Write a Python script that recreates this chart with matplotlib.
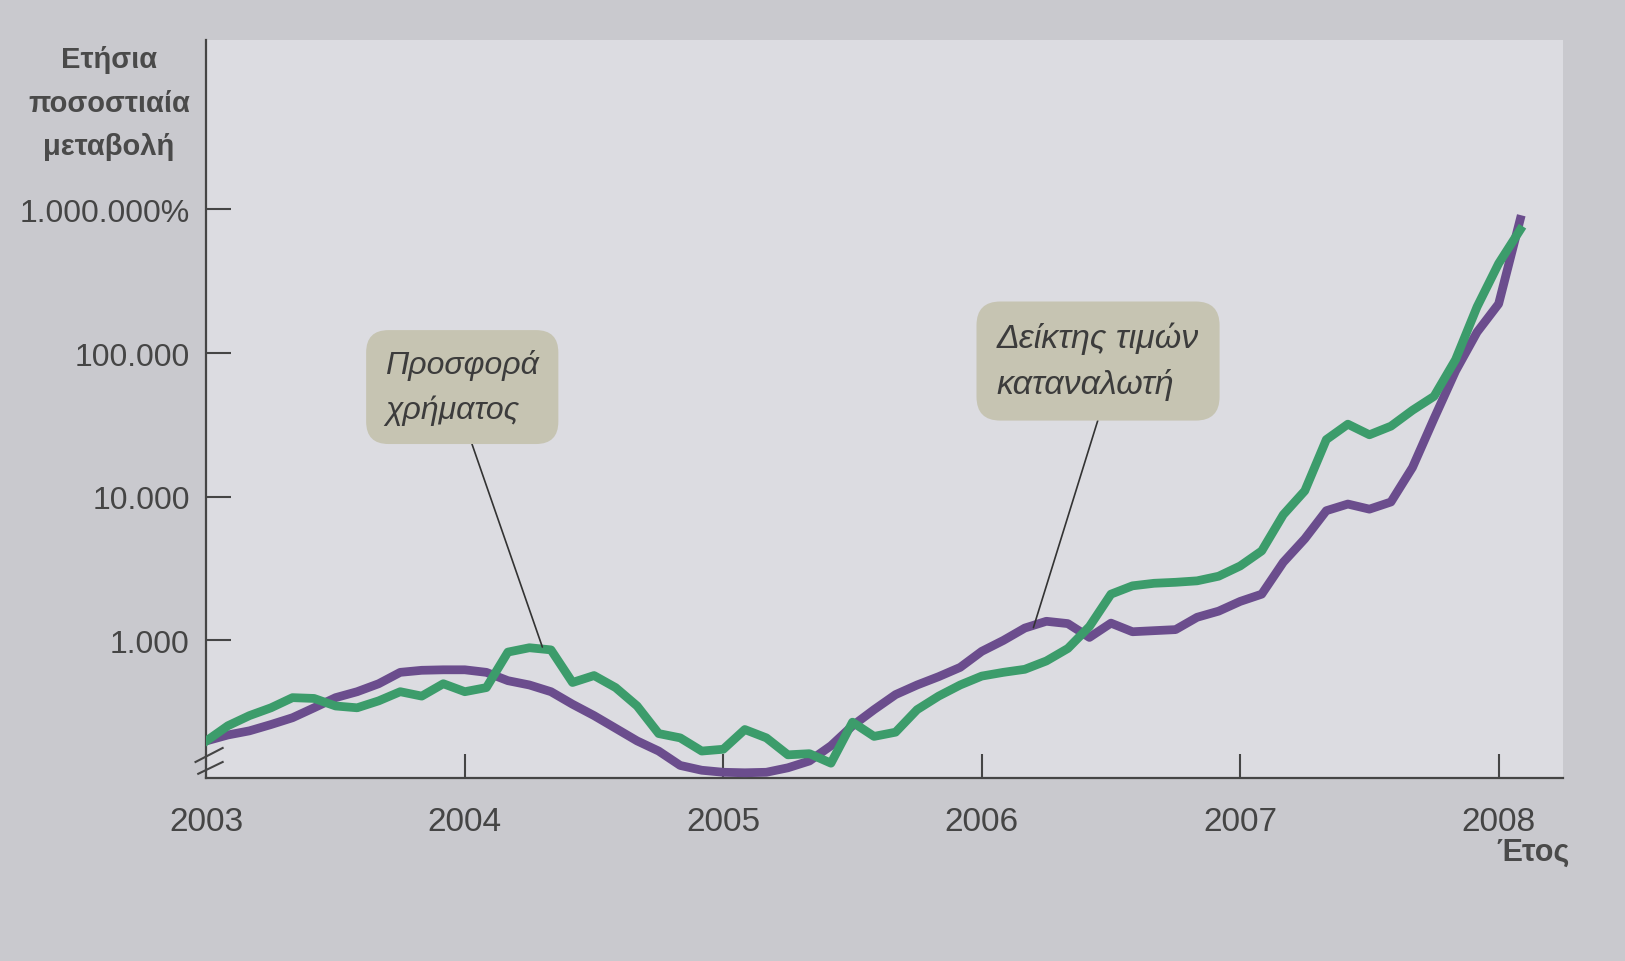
import numpy as np
import pandas as pd
import matplotlib
matplotlib.use("Agg")
import matplotlib.pyplot as plt
from matplotlib.ticker import FixedLocator, FixedFormatter, NullLocator

# Μηνιαία δεδομένα, Ιαν 2003 - Φεβ 2008 (ετήσια % μεταβολή, λογαριθμική κλίμακα)
months = pd.date_range("2003-01-01", periods=62, freq="MS")

cpi = [200, 220, 235, 260, 290, 340, 400, 440, 500, 600,
       620, 625, 625, 600, 525, 490, 440, 360, 300, 245,
       200, 170, 135, 125, 121, 120, 121, 130, 145, 185,
       255, 330, 420, 490, 560, 650, 840, 1000, 1220, 1360,
       1310, 1050, 1320, 1150, 1170, 1190, 1450, 1600, 1870, 2100,
       3500, 5100, 8000, 8900, 8200, 9200, 16000, 35000, 75000, 140000,
       220000, 850000]

money = [200, 255, 300, 340, 400, 395, 350, 340, 380, 440,
         410, 500, 440, 470, 830, 890, 860, 510, 570, 470,
         350, 225, 210, 170, 175, 240, 210, 160, 163, 140,
         270, 215, 230, 330, 410, 490, 565, 600, 630, 720,
         880, 1250, 2100, 2400, 2500, 2540, 2600, 2800, 3300, 4200,
         7500, 11000, 25000, 32000, 27000, 31000, 40000, 50000, 90000, 210000,
         420000, 720000]

year_ticks = [2003, 2004, 2005, 2006, 2007, 2008]
year_labels = ["2003", "2004", "2005", "2006", "2007", "2008"]
y_ticks = [1e3, 1e4, 1e5, 1e6]
y_labels = ["1.000", "10.000", "100.000", "1.000.000%"]

t = months.year + (months.month - 1) / 12

plt.rcParams["font.family"] = ["Liberation Sans", "DejaVu Sans"]

fig = plt.figure(figsize=(16.25, 9.62), dpi=100, facecolor="#c9c9ce")
ax = fig.add_axes([0.127, 0.19, 0.835, 0.767])
ax.set_facecolor("#dcdce1")

ax.plot(t, cpi, color="#6b4d8d", lw=6.3, zorder=3)
ax.plot(t, money, color="#3c9c6b", lw=6.3, zorder=4)

ax.set_yscale("log")
ax.set_ylim(110, 1.5e7)
ax.set_xlim(2003, 2008.25)

ax.yaxis.set_major_locator(FixedLocator(y_ticks))
ax.yaxis.set_major_formatter(FixedFormatter(y_labels))
ax.yaxis.set_minor_locator(NullLocator())
ax.set_xticks(year_ticks)
ax.set_xticklabels(year_labels)

for s in ["top", "right"]:
    ax.spines[s].set_visible(False)
for s in ["left", "bottom"]:
    ax.spines[s].set_color("#454545")
    ax.spines[s].set_linewidth(1.6)

ax.tick_params(axis="y", direction="in", length=18, width=1.5, pad=12,
               labelsize=23, color="#454545", labelcolor="#454545")
ax.tick_params(axis="x", direction="in", length=17, width=1.5, pad=20,
               labelsize=24, color="#454545", labelcolor="#454545")

# τίτλος άξονα y
fig.text(0.067, 0.952, "Ετήσια\nποσοστιαία\nμεταβολή", ha="center", va="top",
         fontsize=21, fontweight="bold", color="#4a4a4a", linespacing=1.7)
fig.text(0.966, 0.114, "Έτος", ha="right", va="center",
         fontsize=22, fontweight="bold", color="#4a4a4a")

# σημάδια διακοπής άξονα
ax.plot([-0.008, 0.012], [0.022, 0.041], color="#454545", lw=1.5,
        transform=ax.transAxes, clip_on=False)
ax.plot([-0.006, 0.012], [0.006, 0.022], color="#454545", lw=1.5,
        transform=ax.transAxes, clip_on=False)

box = dict(boxstyle="round,pad=0.6,rounding_size=0.7", fc="#c6c4b2", ec="none")
ax.annotate("Προσφορά\nχρήματος", xy=(2004.30, 900), xytext=(2003.99, 58000),
            ha="center", va="center", multialignment="left", fontsize=23,
            style="italic", color="#3c3c3c", bbox=box, zorder=5, linespacing=1.6,
            arrowprops=dict(arrowstyle="-", color="#333333", lw=1.2,
                            relpos=(0.52, 0), shrinkA=0, shrinkB=0))
ax.annotate("Δείκτης τιμών\nκαταναλωτή", xy=(2006.20, 1230), xytext=(2006.45, 88000),
            ha="center", va="center", multialignment="left", fontsize=24.5,
            style="italic", color="#3c3c3c", bbox=box, zorder=5, linespacing=1.55,
            arrowprops=dict(arrowstyle="-", color="#333333", lw=1.2,
                            relpos=(0.53, 0), shrinkA=0, shrinkB=0))

fig.savefig("out.png", dpi=100, facecolor=fig.get_facecolor())
